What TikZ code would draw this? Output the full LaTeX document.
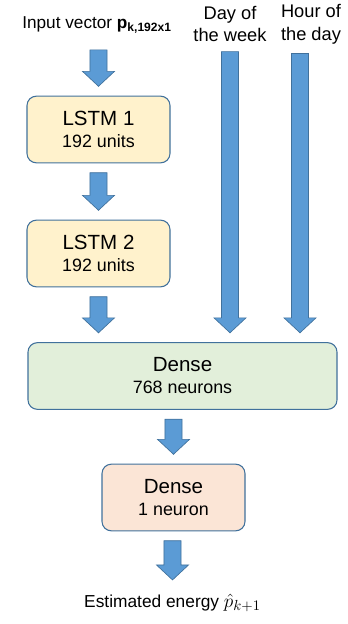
\documentclass[tikz,border=0pt]{standalone}
\usepackage{fontspec}
\setmainfont{Liberation Sans}
\usetikzlibrary{calc}

\definecolor{arrfill}{HTML}{5B9BD5}
\definecolor{arredge}{HTML}{41719C}
\definecolor{lstmfill}{HTML}{FFF2CC}
\definecolor{densefill}{HTML}{E2EFDA}
\definecolor{outfill}{HTML}{FBE5D6}
\newcommand{\subsz}{\fontsize{13.4}{16}\selectfont}

\begin{document}
\begin{tikzpicture}[x=0.75pt,y=-0.75pt,
  box/.style={draw=arredge,line width=0.8pt,rounded corners=7pt,minimum width=107.25pt,
    minimum height=50pt,align=center,font=\fontsize{15.4}{16.5}\selectfont},
  toplabel/.style={font=\fontsize{13.7}{17}\selectfont,align=center,inner sep=0pt},
  fat/.style={fill=arrfill,draw=arredge,line width=0.5pt,
    to path={let \p1=(\tikztostart),\p2=(\tikztotarget) in
      (\x2-6.4pt,\y1-7pt) -- (\x2+6.4pt,\y1-7pt) -- (\x2+6.4pt,\y2+18.2pt) -- (\x2+12pt,\y2+18.2pt)
      -- (\x2,\y2+7pt) -- (\x2-12pt,\y2+18.2pt) -- (\x2-6.4pt,\y2+18.2pt) -- cycle}}]
  \useasboundingbox (0,0) rectangle (347,624);
  \node[font=\fontsize{12.9}{15}\selectfont,outer sep=2pt] (in) at (97,25) {Input vector \textbf{p}\textsubscript{\textbf{k,192x1}}};
  \node[toplabel] (day) at (230,24) {Day of\\the week};
  \node[toplabel] (hour) at (311,24) {Hour of\\the day};
  \node[box,fill=lstmfill] (l1) at (98.5,129.5) {LSTM 1\\{\subsz 192 units}};
  \node[box,fill=lstmfill] (l2) at (98.5,253.5) {LSTM 2\\{\subsz 192 units}};
  \node[box,fill=densefill,minimum width=231.75pt] (d1) at (182.5,376) {Dense\\{\subsz 768 neurons}};
  \node[box,fill=outfill] (d2) at (173.5,497.5) {Dense\\{\subsz 1 neuron}};
  \node[font=\fontsize{13}{15}\selectfont] (est) at (172.5,603) {Estimated energy {\fontsize{15.5}{15}\selectfont$\hat{p}_{k+1}$}};
  \draw[fat] (in.south) to (l1.north);
  \draw[fat] (l1.south) to (l2.north);
  \draw[fat] (l2.south) to (l2.south |- d1.north);
  \draw[fat] (day.south) to (day.south |- d1.north);
  \draw[fat] (hour.south) to ([xshift=-8.25pt]hour.south |- d1.north);
  \draw[fat] (d1.south) to (d2.north);
  \draw[fat] (d2.south) to (est.north);
\end{tikzpicture}
\end{document}
